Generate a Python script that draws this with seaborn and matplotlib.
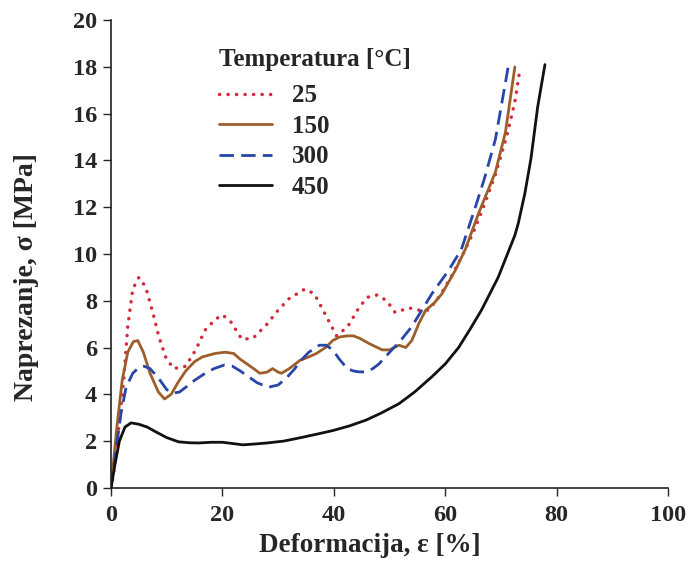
import numpy as np
import pandas as pd
import matplotlib
matplotlib.use("Agg")
import matplotlib.pyplot as plt
import seaborn as sns

# ---- data ----
x_25 = [0, 0.4, 1.4, 2.3, 3.0, 3.9, 5.0, 6.2, 7.5, 8.6, 9.8, 11.2, 13.4, 15.2, 16.9, 18.7, 20.0,
        21.5, 23.5, 25.5, 28, 30, 32, 34.8, 36.5, 38.5, 40.5, 42.5, 44.5, 46, 47.8, 49.5, 51,
        53.5, 55, 57, 59, 61, 63, 65, 67, 69, 71, 72.5, 73.4]
y_25 = [0, 0.5, 2.6, 4.7, 6.9, 8.5, 9.0, 8.6, 7.5, 6.45, 5.6, 5.1, 5.2, 5.9, 6.75, 7.2, 7.4,
        7.1, 6.35, 6.4, 7.0, 7.6, 8.1, 8.5, 8.3, 7.4, 6.5, 6.9, 7.7, 8.15, 8.25, 8.0, 7.5,
        7.7, 7.6, 7.6, 8.2, 9.0, 9.9, 10.9, 12.1, 13.4, 15.0, 16.5, 17.9]

x_150 = [0, 1, 2, 3, 4, 4.8, 5.8, 7, 8.5, 9.6, 10.8, 12, 13.4, 15, 16.4, 18.7, 20.5, 22, 23.2,
         24.4, 25.6, 26.7, 28, 29, 30, 30.6, 32, 33.9, 35.5, 36.9, 38.5, 39.8, 41, 42.4, 43.5,
         44.6, 46.5, 48.7, 50, 51.7, 52.9, 54, 55.3, 56.5, 58, 59.4, 61.8, 63.6, 66, 69, 70.8, 72.5]
y_150 = [0, 2.5, 4.6, 5.8, 6.25, 6.3, 5.8, 4.9, 4.1, 3.8, 4.0, 4.5, 5.0, 5.4, 5.6, 5.75, 5.8,
         5.75, 5.5, 5.3, 5.1, 4.9, 4.95, 5.1, 4.95, 4.9, 5.1, 5.45, 5.6, 5.75, 6.0, 6.3, 6.45,
         6.5, 6.5, 6.4, 6.15, 5.9, 5.9, 6.1, 6.0, 6.3, 7.05, 7.6, 7.9, 8.3, 9.3, 10.2, 11.75,
         13.5, 15.2, 18.0]

x_300 = [0, 1, 1.8, 2.7, 3.9, 5, 5.9, 7, 8.5, 10, 11.2, 12.3, 13.4, 15, 16.9, 18.5, 20.3, 21.8,
         23.2, 24.7, 26.2, 28.2, 30, 31.5, 33, 33.9, 35.5, 37.4, 38.6, 39.8, 41, 42.4, 43.5,
         44.5, 45.8, 47, 48.1, 50.4, 52, 54, 55.8, 57.6, 60.6, 62.9, 65.4, 67, 69, 71.3]
y_300 = [0, 1.8, 3.2, 4.3, 4.9, 5.15, 5.2, 5.1, 4.7, 4.2, 4.05, 4.1, 4.3, 4.6, 4.9, 5.1, 5.25,
         5.2, 5.0, 4.75, 4.5, 4.3, 4.4, 4.7, 5.1, 5.4, 5.8, 6.1, 6.1, 5.9, 5.5, 5.1, 5.0, 4.96,
         4.96, 5.1, 5.3, 5.9, 6.3, 6.9, 7.6, 8.3, 9.3, 10.2, 12.0, 13.2, 14.9, 18.0]

x_450 = [0, 0.7, 1.5, 2.5, 3.6, 5, 6.5, 8, 10, 12.1, 14, 15.7, 18, 20, 23.7, 26, 28, 31, 33.9,
         37, 39.8, 42.8, 45.8, 48.5, 51.7, 54.5, 57.6, 60, 62.4, 64.5, 66.5, 68, 69.5, 71,
         72.5, 73.1, 74.3, 75.4, 76.6, 77.9]
y_450 = [0, 1.0, 2.0, 2.6, 2.78, 2.72, 2.6, 2.4, 2.15, 1.97, 1.93, 1.92, 1.95, 1.95, 1.84,
         1.88, 1.92, 2.0, 2.14, 2.3, 2.45, 2.65, 2.9, 3.2, 3.6, 4.1, 4.75, 5.3, 6.0, 6.8, 7.6,
         8.3, 9.0, 9.9, 10.8, 11.3, 12.6, 14.1, 16.3, 18.1]

labels = ["25", "150", "300", "450"]
x_ticks = [0, 20, 40, 60, 80, 100]
y_ticks = [0, 2, 4, 6, 8, 10, 12, 14, 16, 18, 20]

series = {"25": (x_25, y_25), "150": (x_150, y_150), "300": (x_300, y_300), "450": (x_450, y_450)}
colors = {"25": "#d42a3c", "150": "#9e5e2c", "300": "#2846a8", "450": "#111111"}
styles = {
    "25": dict(dashes=(0.05, 2.4), dash_capstyle="round", lw=2.5),
    "150": dict(lw=2.0),
    "300": dict(dashes=(5.2, 2.6), lw=2.0),
    "450": dict(lw=2.0),
}

sns.set_style("white")
plt.rcParams["font.family"] = ["Liberation Serif", "DejaVu Serif"]
plt.rcParams["font.weight"] = "bold"

fig = plt.figure(figsize=(6.94, 5.76), dpi=100)
ax = fig.add_axes([0.16, 0.153, 0.8026, 0.812])

for lab in labels:
    xs, ys = series[lab]
    df = pd.DataFrame({"x": xs, "y": ys})
    sns.lineplot(data=df, x="x", y="y", ax=ax, color=colors[lab], label=lab,
                 sort=False, estimator=None, **styles[lab])

ax.set_xlim(0, 100)
ax.set_ylim(0, 20)
ax.set_xticks(x_ticks)
ax.set_yticks(y_ticks)
ax.tick_params(axis="x", direction="out", length=6, width=1, labelsize=17.5, pad=6, bottom=True)
ax.tick_params(axis="y", direction="out", length=6, width=1, labelsize=17.5, pad=4, left=True)
for s in ["top", "right"]:
    ax.spines[s].set_visible(False)
for s in ["left", "bottom"]:
    ax.spines[s].set_color("#222222")
    ax.spines[s].set_linewidth(1.2)
for t in ax.get_xticklabels() + ax.get_yticklabels():
    t.set_fontweight("bold")

ax.set_xlabel("Deformacija, ε [%]", fontsize=19.5, fontweight="bold")
ax.set_ylabel("Naprezanje, σ [MPa]", fontsize=20, fontweight="bold")
ax.xaxis.set_label_coords(0.465, -0.096)
ax.yaxis.set_label_coords(-0.13, 0.45)

leg = ax.legend(title="Temperatura [°C]", loc="upper left", bbox_to_anchor=(0.172, 0.967),
                frameon=False, fontsize=18, title_fontproperties={"weight": "bold", "size": 18},
                handlelength=2.1, handletextpad=0.8, labelspacing=0.3, borderpad=0,
                alignment="left")
leg._legend_box.sep = 9.5
for t in leg.get_texts():
    t.set_fontweight("bold")

fig.savefig("out.png", dpi=100)
